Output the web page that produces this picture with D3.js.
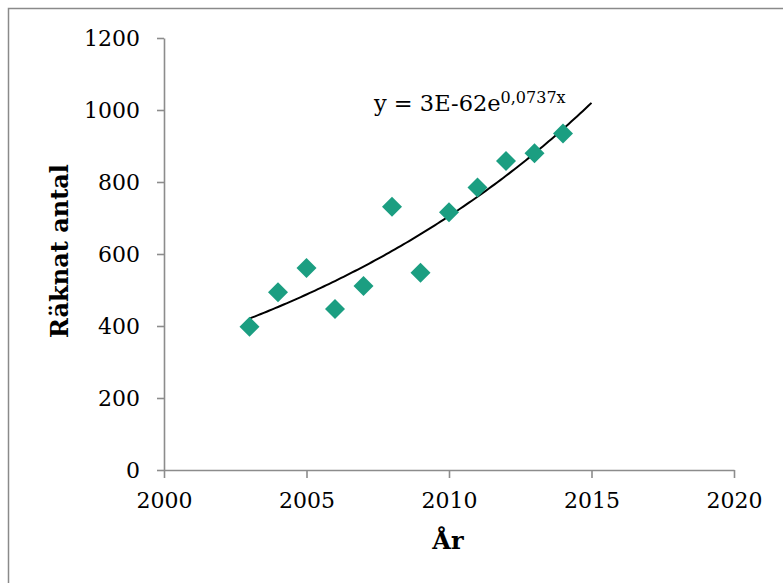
<!DOCTYPE html>
<html>
<head>
<meta charset="utf-8">
<script src="https://cdn.jsdelivr.net/npm/d3@7"></script>
<style>
  html, body { margin: 0; padding: 0; background: #fff; }
  svg { display: block; }
  text { font-family: "DejaVu Serif", Georgia, serif; }
</style>
</head>
<body>
<svg id="chart" width="783" height="583"></svg>
<script>
// ---- data ----
const years = [2003, 2004, 2005, 2006, 2007, 2008, 2009, 2010, 2011, 2012, 2013, 2014];
const counts = [398, 494, 561, 447, 511, 731, 548, 716, 785, 858, 880, 935];
const xTicks = [2000, 2005, 2010, 2015, 2020];
const yTicks = [0, 200, 400, 600, 800, 1000, 1200];
const xTitle = "År";
const yTitle = "Räknat antal";
const eqMain = "y = 3E-62e";
const eqSup = "0,0737x";
const trendRange = [2003, 2015];

const svg = d3.select("#chart");

// outer frame
svg.append("rect").attr("x", 8.5).attr("y", 8.5).attr("width", 900).attr("height", 700)
  .attr("fill", "#fff").attr("stroke", "#8a8a8a").attr("stroke-width", 1.5);

const x = d3.scaleLinear().domain([2000, 2020]).range([164, 734]);
const y = d3.scaleLinear().domain([0, 1200]).range([470, 38]);

const axisColor = "#8c8c8c";

const gx = svg.append("g").attr("transform", `translate(0,${y(0)})`)
  .call(d3.axisBottom(x).tickValues(xTicks).tickFormat(d3.format("d")).tickSize(8).tickSizeOuter(0).tickPadding(14));
const gy = svg.append("g").attr("transform", `translate(${x(2000)},0)`)
  .call(d3.axisLeft(y).tickValues(yTicks).tickFormat(d3.format("d")).tickSize(7).tickSizeOuter(0).tickPadding(17));

[gx, gy].forEach(g => {
  g.select(".domain").attr("stroke", axisColor).attr("stroke-width", 1.6);
  g.selectAll(".tick line").attr("stroke", axisColor).attr("stroke-width", 1.6);
  g.selectAll(".tick text").attr("fill", "#000").style("font-size", "22px")
    .style("font-family", '"DejaVu Serif", Georgia, serif');
});

// trendline: exponential fit (least squares on ln y)
const lx = years, ly = counts.map(Math.log);
const mx = d3.mean(lx), my = d3.mean(ly);
const b = d3.sum(lx.map((v, i) => (v - mx) * (ly[i] - my))) / d3.sum(lx.map(v => (v - mx) ** 2));
const a = my - b * mx;
const trendX = d3.range(trendRange[0], trendRange[1] + 0.001, 0.1);
const line = d3.line().x(d => x(d)).y(d => y(Math.exp(a + b * d)));
svg.append("path").datum(trendX).attr("d", line)
  .attr("fill", "none").attr("stroke", "#000").attr("stroke-width", 2);

// markers
svg.append("g").selectAll("path").data(years).join("path")
  .attr("transform", (d, i) => `translate(${x(d)},${y(counts[i])}) rotate(45)`)
  .attr("d", d3.symbol(d3.symbolSquare, 200))
  .attr("fill", "#1b9e81");

// equation label
const eq = svg.append("text").attr("x", 374).attr("y", 111).style("font-size", "22.5px").attr("fill", "#000");
eq.append("tspan").text(eqMain);
eq.append("tspan").attr("dy", -8).style("font-size", "16px").text(eqSup);

// axis titles
svg.append("text").attr("x", 448).attr("y", 549).attr("text-anchor", "middle")
  .style("font-size", "24px").style("font-weight", "bold").text(xTitle);
svg.append("text").attr("transform", "translate(68,251) rotate(-90)").attr("text-anchor", "middle")
  .style("font-size", "24px").style("font-weight", "bold").text(yTitle);
</script>
</body>
</html>
